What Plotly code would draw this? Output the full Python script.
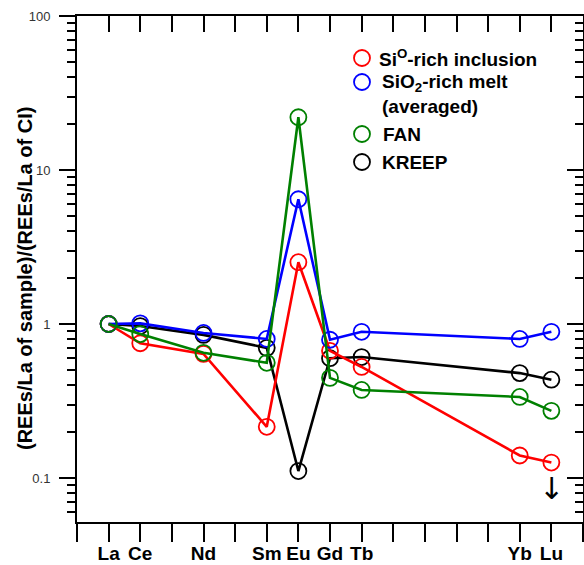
import plotly.graph_objects as go
import numpy as np

# ---- data ----
elements = ['La', 'Ce', 'Nd', 'Sm', 'Eu', 'Gd', 'Tb', 'Yb', 'Lu']
atomic_no = [57, 58, 60, 62, 63, 64, 65, 70, 71]
si_inclusion = [1.0, 0.75, 0.64, 0.215, 2.52, 0.67, 0.526, 0.14, 0.126]
sio2_melt = [1.0, 1.01, 0.875, 0.80, 6.46, 0.79, 0.89, 0.80, 0.89]
fan = [1.0, 0.86, 0.65, 0.56, 22.0, 0.447, 0.373, 0.336, 0.273]
kreep = [1.0, 0.97, 0.85, 0.70, 0.111, 0.60, 0.61, 0.48, 0.435]

series_names = ['Si<sup>O</sup>-rich inclusion', 'SiO<sub>2</sub>-rich melt<br>(averaged)', 'FAN', 'KREEP']
series_colors = ['#ff0000', '#0000ff', '#008000', '#000000']

y_major = [0.1, 1, 10, 100]
y_major_text = ['0.1', '1', '10', '100']

FONT = 'Liberation Sans, Arial, sans-serif'

fig = go.Figure()

draw_order = [(kreep, 3), (si_inclusion, 0), (sio2_melt, 1), (fan, 2)]
for vals, idx in draw_order:
    fig.add_trace(go.Scatter(
        x=atomic_no, y=vals, mode='lines+markers', name=series_names[idx],
        line=dict(color=series_colors[idx], width=2.6),
        marker=dict(symbol='circle-open', size=16, color=series_colors[idx],
                    line=dict(width=1.8, color=series_colors[idx])),
        showlegend=False, cliponaxis=False))

# invisible trace for the mirror axes
fig.add_trace(go.Scatter(x=[None], y=[None], xaxis='x2', yaxis='y2', showlegend=False))

xt = list(range(56, 73))
xtext = [elements[atomic_no.index(v)] if v in atomic_no else ' ' for v in xt]

minor_vals = []
for dec in [0.01, 0.1, 1, 10]:
    for k in range(2, 10):
        minor_vals.append(k * dec)

yr = [np.log10(0.0518), 2]

fig.update_layout(
    width=584, height=565,
    margin=dict(l=77, r=1, t=16, b=43),
    paper_bgcolor='white', plot_bgcolor='white',
    xaxis=dict(range=[56, 72], tickvals=xt, ticktext=xtext, ticks='outside',
               ticklen=18, tickwidth=2, tickcolor='black', showline=True,
               linewidth=2, linecolor='black', showgrid=False, zeroline=False,
               automargin=False, ticklabelstandoff=-5,
               tickfont=dict(family=FONT, size=19, color='black', weight='bold')),
    xaxis2=dict(range=[56, 72], overlaying='x', side='top', tickvals=xt,
                ticks='inside', ticklen=16, tickwidth=2, tickcolor='black',
                showticklabels=False, showline=True, linewidth=2, linecolor='black',
                showgrid=False, zeroline=False, automargin=False),
    yaxis=dict(type='log', range=yr, tickvals=y_major, ticktext=y_major_text,
               ticks='outside', ticklen=16, tickwidth=2, tickcolor='black',
               showline=True, linewidth=2, linecolor='black', showgrid=False,
               zeroline=False, ticklabelstandoff=6, automargin=False,
               tickfont=dict(family=FONT, size=13, color='#333333'),
               minor=dict(tickvals=minor_vals, ticks='outside', ticklen=8,
                          tickwidth=2, tickcolor='black', showgrid=False)),
    yaxis2=dict(type='log', range=yr, overlaying='y', side='right',
                tickvals=y_major, ticks='inside', ticklen=16, tickwidth=2,
                tickcolor='black', showticklabels=False, showline=True,
                linewidth=2, linecolor='black', showgrid=False, zeroline=False,
                automargin=False,
                minor=dict(tickvals=minor_vals, ticks='inside', ticklen=8,
                           tickwidth=2, tickcolor='black', showgrid=False)),
)

def px2paper_x(px):
    return (px - 77) / 506.0

def px2paper_y(py):
    return (522 - py) / 506.0

# y-axis title
fig.add_annotation(text='(REEs/La of sample)/(REEs/La of CI)', textangle=-90,
                   xref='paper', yref='paper', x=px2paper_x(25), y=px2paper_y(279),
                   showarrow=False, xanchor='center', yanchor='middle',
                   font=dict(family=FONT, size=20, color='black', weight='bold'))

# custom legend
leg_circle_y = [58, 82, 134, 162]
leg_text_y = [58, 94, 134, 162]
leg_text_x = [377, 380, 381, 380]
for i in range(4):
    cx, cy = px2paper_x(362), px2paper_y(leg_circle_y[i])
    fig.add_shape(type='circle', xref='paper', yref='paper', xsizemode='pixel',
                  ysizemode='pixel', xanchor=cx, yanchor=cy, x0=-8, x1=8, y0=-8, y1=8,
                  line=dict(color=series_colors[i], width=1.8))
    fig.add_annotation(text=series_names[i], xref='paper', yref='paper',
                       x=px2paper_x(leg_text_x[i]), y=px2paper_y(leg_text_y[i]),
                       showarrow=False, xanchor='left', yanchor='middle', align='left',
                       font=dict(family=FONT, size=19, color='black', weight='bold'))

# upper-limit arrow below Lu
fig.add_annotation(text='↓', x=71, y=(324 - 489) / 154.3, xref='x', yref='y',
                   showarrow=False,
                   font=dict(family='DejaVu Sans', size=30, color='black'))

fig.write_html('out.html', config={'displayModeBar': False},
               post_script="document.body.style.margin='0px';document.body.style.overflow='hidden';")
